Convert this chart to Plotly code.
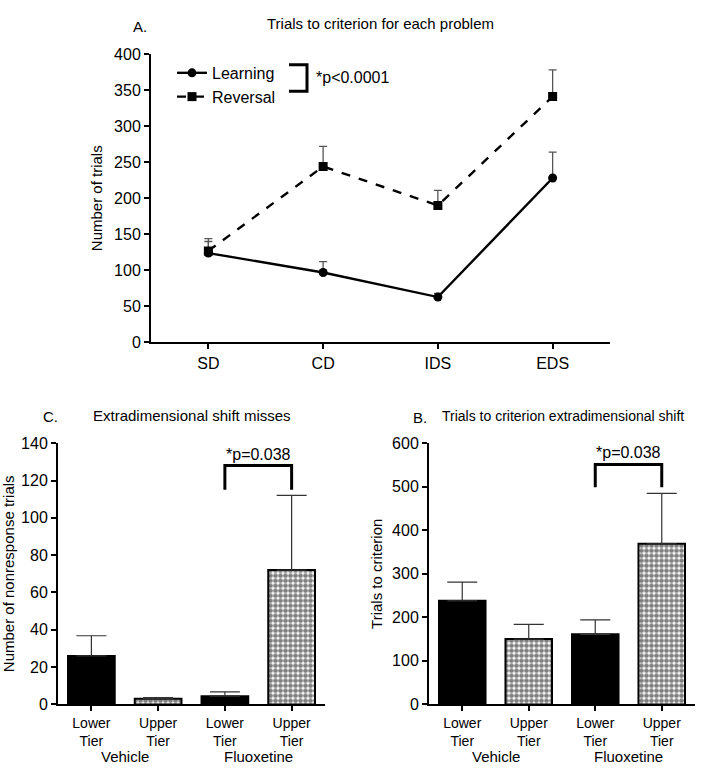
import plotly.graph_objects as go

W, H = 704, 775

# ---- Panel A data ----
problems = ["SD", "CD", "IDS", "EDS"]
learning = [124, 97, 63, 228]
learning_err = [16, 15, 5, 36]
reversal = [127, 244, 190, 341]
reversal_err = [17, 28, 21, 37]

# ---- Panels C and B data ----
bar_cats = ["Vehicle Lower", "Vehicle Upper", "Fluoxetine Lower", "Fluoxetine Upper"]
bar_ticktext = ["Lower<br>Tier", "Upper<br>Tier", "Lower<br>Tier", "Upper<br>Tier"]
groups = ["Vehicle", "Fluoxetine"]
misses = [26, 3, 4.4, 72]
misses_err = [10.8, 0.6, 2.3, 40]
trials_eds = [238, 150, 161, 369]
trials_eds_err = [43, 34, 33, 116]

FONT = "Liberation Sans, Arial, Helvetica, sans-serif"

def px(x):
    return x / W

def py(y):
    return 1 - y / H

fig = go.Figure()

# Panel A
fig.add_trace(go.Scatter(
    x=problems, y=learning, name="Learning", mode="lines+markers",
    line=dict(color="black", width=2.4),
    marker=dict(symbol="circle", size=9, color="black"),
    error_y=dict(type="data", array=learning_err, arrayminus=[0]*4, symmetric=False,
                 color="#555555", thickness=1.3, width=4),
    xaxis="x", yaxis="y", legendgroup="a"))
fig.add_trace(go.Scatter(
    x=problems, y=reversal, name="Reversal", mode="lines+markers",
    line=dict(color="black", width=2.4, dash="dash"),
    marker=dict(symbol="square", size=9, color="black"),
    error_y=dict(type="data", array=reversal_err, arrayminus=[0]*4, symmetric=False,
                 color="#555555", thickness=1.3, width=4),
    xaxis="x", yaxis="y", legendgroup="b"))

solid = dict(color="black", line=dict(color="black", width=2))
checker = dict(color="white", line=dict(color="black", width=2),
               pattern=dict(shape=".", fgcolor="black", bgcolor="white",
                            size=5, solidity=0.7, fillmode="overlay"))

def bars(vals, errs, xa, ya):
    for i in range(4):
        fig.add_trace(go.Bar(
            x=[bar_cats[i]], y=[vals[i]], width=0.7,
            marker=solid if i % 2 == 0 else checker,
            error_y=dict(type="data", array=[errs[i]], arrayminus=[0], symmetric=False,
                         color="#333333", thickness=1.2, width=15),
            xaxis=xa, yaxis=ya, showlegend=False))

bars(misses, misses_err, "x2", "y2")
bars(trials_eds, trials_eds_err, "x3", "y3")

def axis_common(size=16):
    return dict(showline=True, linecolor="black", linewidth=2, ticks="outside",
                ticklen=5, tickwidth=2, tickcolor="black", showgrid=False,
                zeroline=False, tickfont=dict(family=FONT, size=size, color="black"))

fig.update_layout(
    width=W, height=H, margin=dict(l=0, r=0, t=0, b=0),
    paper_bgcolor="white", plot_bgcolor="white",
    font=dict(family=FONT, color="black"),
    barmode="overlay",
    showlegend=True,
    legend=dict(x=px(172), y=py(49), xanchor="left", yanchor="top",
                bgcolor="rgba(0,0,0,0)", font=dict(family=FONT, size=16, color="black"),
                tracegroupgap=0, itemwidth=30),
    xaxis=dict(domain=[px(151), px(610)], anchor="y", type="category",
               categoryorder="array", categoryarray=problems, range=[-0.5, 3.5],
               **axis_common(16)),
    yaxis=dict(domain=[py(342), py(47)], anchor="x", range=[0, 400], dtick=50,
               title=dict(text="Number of trials", font=dict(size=15, family=FONT), standoff=8),
               **axis_common(16)),
    xaxis2=dict(domain=[px(58), px(325)], anchor="y2", type="category",
                categoryorder="array", categoryarray=bar_cats, range=[-0.5, 3.5],
                tickvals=bar_cats, ticktext=bar_ticktext, **axis_common(14)),
    yaxis2=dict(domain=[py(712), py(445)], anchor="x2", range=[0, 140], dtick=20,
                title=dict(text="Number of nonresponse trials", font=dict(size=15, family=FONT), standoff=6),
                **axis_common(16)),
    xaxis3=dict(domain=[px(429), px(695)], anchor="y3", type="category",
                categoryorder="array", categoryarray=bar_cats, range=[-0.5, 3.5],
                tickvals=bar_cats, ticktext=bar_ticktext, **axis_common(14)),
    yaxis3=dict(domain=[py(712), py(445)], anchor="x3", range=[0, 600], dtick=100,
                title=dict(text="Trials to criterion", font=dict(size=15, family=FONT), standoff=6),
                **axis_common(16)),
)

ann = []
def text(x, y, s, size=14, xanchor="center", xref="paper", yref="paper"):
    ann.append(dict(x=x, y=y, xref=xref, yref=yref, text=s, showarrow=False,
                    xanchor=xanchor, yanchor="middle",
                    font=dict(family=FONT, size=size, color="black")))

text(px(140), py(19), "A.", 15)
text(px(381), py(16), "Trials to criterion for each problem", 15)
text(px(314), py(71), "*p<0.0001", 16, xanchor="left")
text(px(50), py(418), "C.", 15)
text(px(192), py(417), "Extradimensional shift misses", 15)
text(px(420), py(419), "B.", 15)
text(px(563), py(417), "Trials to criterion extradimensional shift", 14)

# group labels under bar charts
for xa in ("x2", "x3"):
    for gi, g in enumerate(groups):
        ann.append(dict(x=0.5 + 2 * gi, y=py(765), xref=xa, yref="paper", text=g,
                        showarrow=False, xanchor="center", yanchor="middle",
                        font=dict(family=FONT, size=15, color="black")))

# p-value labels for bar charts
ann.append(dict(x=2.5, y=134, xref="x2", yref="y2", text="*p=0.038", showarrow=False,
                font=dict(family=FONT, size=16, color="black")))
ann.append(dict(x=2.5, y=579, xref="x3", yref="y3", text="*p=0.038", showarrow=False,
                font=dict(family=FONT, size=16, color="black")))
fig.update_layout(annotations=ann)

shapes = []
# legend bracket (panel A)
shapes.append(dict(type="path", xref="paper", yref="paper",
                   path=f"M {px(289)},{py(58)} L {px(307)},{py(58)} L {px(307)},{py(85)} L {px(289)},{py(85)}",
                   line=dict(color="black", width=3)))
# significance brackets
shapes.append(dict(type="path", xref="x2", yref="y2",
                   path="M 2,115 L 2,128 L 3,128 L 3,115", line=dict(color="black", width=3)))
shapes.append(dict(type="path", xref="x3", yref="y3",
                   path="M 2,499 L 2,551 L 3,551 L 3,499", line=dict(color="black", width=3)))
fig.update_layout(shapes=shapes)

fig.write_html("out.html", config={"displayModeBar": False},
               post_script="document.body.style.margin='0';document.body.style.overflow='hidden';")
